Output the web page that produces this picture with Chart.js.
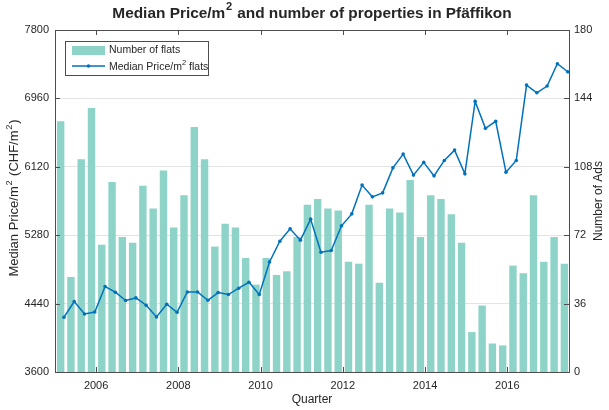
<!DOCTYPE html>
<html lang="en">
<head>
  <meta charset="UTF-8">
  <title>Median Price/m2 Pfäffikon</title>
  <script src="https://cdn.jsdelivr.net/npm/chart.js"></script>
  <style>
    body { margin: 0; background: #fff; }
    #wrap { width: 609px; height: 410px; position: relative; }
  </style>
</head>
<body>
  <div id="wrap"><canvas id="chart"></canvas></div>

  <script>
    // data, one value per quarter (2005 Q1 .. 2017 Q2)
    const startYear = 2005;
    const flats = [132, 50, 112, 139, 67, 100, 71, 68, 98, 86,
                   106, 76, 93, 129, 112, 66, 78, 76, 60, 46,
                   60, 51, 53, 71, 88, 91, 86, 85, 58, 57,
                   88, 47, 86, 84, 101, 71, 93, 91, 83, 68,
                   21, 35, 15, 14, 56, 52, 93, 58, 71, 57];
    const price = [4272, 4465, 4313, 4337, 4650, 4580, 4478, 4510, 4420, 4276,
                   4432, 4334, 4583, 4583, 4481, 4576, 4551, 4629, 4702, 4551,
                   4952, 5206, 5358, 5219, 5477, 5071, 5092, 5395, 5542, 5895,
                   5751, 5800, 6107, 6276, 6018, 6174, 6009, 6198, 6325, 6034,
                   6923, 6592, 6678, 6054, 6198, 7124, 7029, 7112, 7386, 7287];
    const yearTicks = [2006, 2008, 2010, 2012, 2014, 2016];
    const priceTicks = [3600, 4440, 5280, 6120, 6960, 7800];
    const adsTicks = [0, 36, 72, 108, 144, 180];

    const barColor = '#8dd3c7';
    const lineColor = '#0072bd';
    const textColor = '#262626';
    const FONT = '"Liberation Sans", Arial, sans-serif';

    // bars sit mid-quarter, line points at the end of the quarter
    const barData = flats.map((v, i) => ({ x: startYear + (i + 0.55) / 4, y: v }));
    const lineData = price.map((v, i) => ({ x: startYear + (i + 0.87) / 4, y: v }));

    // draws text with superscript parts, e.g. [['m'], ['2', true]]
    function richText(ctx, parts, x, y, size, bold, align, gap = 1.5) {
      const font = p => (bold ? 'bold ' : '') + (p[1] ? size * 0.72 : size) + 'px ' + FONT;
      const w = parts.map(p => {
        ctx.font = font(p);
        return ctx.measureText(p[0]).width + (p[1] ? gap : 0);
      });
      const total = w.reduce((a, b) => a + b, 0);
      let cx = align === 'center' ? x - total / 2 : x;
      ctx.textAlign = 'left';
      ctx.textBaseline = 'middle';
      parts.forEach((p, i) => {
        ctx.font = font(p);
        ctx.fillText(p[0], cx + (p[1] ? gap / 2 : 0), p[1] ? y - size * 0.4 : y);
        cx += w[i];
      });
    }

    const decor = {
      id: 'decor',
      afterDraw(chart) {
        const ctx = chart.ctx;
        const a = chart.chartArea;
        const sx = chart.scales.x, sy = chart.scales.y;
        ctx.save();
        ctx.fillStyle = textColor;

        // box and inward ticks
        ctx.strokeStyle = '#4d4d4d';
        ctx.lineWidth = 1;
        ctx.strokeRect(Math.round(a.left) + 0.5, Math.round(a.top) + 0.5,
                       Math.round(a.right - a.left), Math.round(a.bottom - a.top));
        ctx.beginPath();
        priceTicks.forEach(v => {
          const y = Math.round(sy.getPixelForValue(v)) + 0.5;
          ctx.moveTo(a.left, y); ctx.lineTo(a.left + 5, y);
          ctx.moveTo(a.right, y); ctx.lineTo(a.right - 5, y);
        });
        yearTicks.forEach(v => {
          const x = Math.round(sx.getPixelForValue(v)) + 0.5;
          ctx.moveTo(x, a.bottom); ctx.lineTo(x, a.bottom - 5);
          ctx.moveTo(x, a.top); ctx.lineTo(x, a.top + 5);
        });
        ctx.stroke();

        // title
        richText(ctx, [['Median Price/m'], ['2', true], [' and number of properties in Pfäffikon']],
                 (a.left + a.right) / 2, 13.5, 15.4, true, 'center');

        // axis titles
        ctx.fillStyle = textColor;
        richText(ctx, [['Quarter']], (a.left + a.right) / 2, 400, 12, false, 'center');
        ctx.save();
        ctx.translate(14.5, 198);
        ctx.rotate(-Math.PI / 2);
        richText(ctx, [['Median Price/m'], ['2', true], [' (CHF/m'], ['2', true], [')']], 0, 0, 13, false, 'center');
        ctx.restore();
        ctx.save();
        ctx.translate(598.5, (a.top + a.bottom) / 2);
        ctx.rotate(-Math.PI / 2);
        richText(ctx, [['Number of Ads']], 0, 0, 12, false, 'center');
        ctx.restore();

        // legend
        ctx.fillStyle = '#fff';
        ctx.fillRect(65.5, 41.5, 143, 34);
        ctx.strokeStyle = '#4d4d4d';
        ctx.strokeRect(65.5, 41.5, 143, 34);
        ctx.fillStyle = barColor;
        ctx.fillRect(72, 46, 33, 9);
        ctx.strokeStyle = lineColor;
        ctx.lineWidth = 1.5;
        ctx.beginPath();
        ctx.moveTo(72, 66); ctx.lineTo(105, 66);
        ctx.stroke();
        ctx.fillStyle = lineColor;
        ctx.beginPath();
        ctx.arc(88.5, 66, 1.8, 0, Math.PI * 2);
        ctx.fill();
        ctx.fillStyle = textColor;
        richText(ctx, [['Number of flats']], 109, 50.5, 10.5, false, 'left', 0);
        richText(ctx, [['Median Price/m'], ['2', true], [' flats']], 109, 67, 10.5, false, 'left', 0);
        ctx.restore();
      }
    };

    Chart.defaults.font.family = FONT;
    Chart.defaults.font.size = 11;
    Chart.defaults.color = textColor;

    new Chart(document.getElementById('chart'), {
      type: 'bar',
      data: {
        datasets: [
          {
            type: 'line',
            label: 'Median Price/m² flats',
            data: lineData,
            yAxisID: 'y',
            borderColor: lineColor,
            backgroundColor: lineColor,
            borderWidth: 1.5,
            pointRadius: 1.8,
            pointBorderWidth: 0,
            tension: 0,
            order: 0
          },
          {
            type: 'bar',
            label: 'Number of flats',
            data: barData,
            yAxisID: 'y1',
            backgroundColor: barColor,
            borderWidth: 0,
            barPercentage: 0.72,
            categoryPercentage: 1,
            order: 1
          }
        ]
      },
      options: {
        responsive: true,
        maintainAspectRatio: false,
        animation: false,
        layout: { padding: { top: 30, left: 0, right: 0, bottom: 0 } },
        plugins: { legend: { display: false }, tooltip: { enabled: false } },
        scales: {
          x: {
            type: 'linear',
            offset: false,
            min: startYear,
            max: startYear + flats.length / 4,
            afterBuildTicks: s => { s.ticks = yearTicks.map(v => ({ value: v })); },
            afterFit: s => { s.height = 38; },
            ticks: { callback: v => String(v), padding: 7, maxRotation: 0 },
            grid: { display: false, drawTicks: false, offset: false },
            border: { display: false }
          },
          y: {
            position: 'left',
            min: 3600,
            max: 7800,
            afterBuildTicks: s => { s.ticks = priceTicks.map(v => ({ value: v })); },
            afterFit: s => { s.width = 55; },
            ticks: { callback: v => String(v), padding: 6 },
            grid: { color: '#e3e3e3', drawTicks: false },
            border: { display: false }
          },
          y1: {
            position: 'right',
            min: 0,
            max: 180,
            afterBuildTicks: s => { s.ticks = adsTicks.map(v => ({ value: v })); },
            afterFit: s => { s.width = 40; },
            ticks: { callback: v => String(v), padding: 5 },
            grid: { display: false, drawTicks: false },
            border: { display: false }
          }
        }
      },
      plugins: [decor]
    });
  </script>
</body>
</html>
